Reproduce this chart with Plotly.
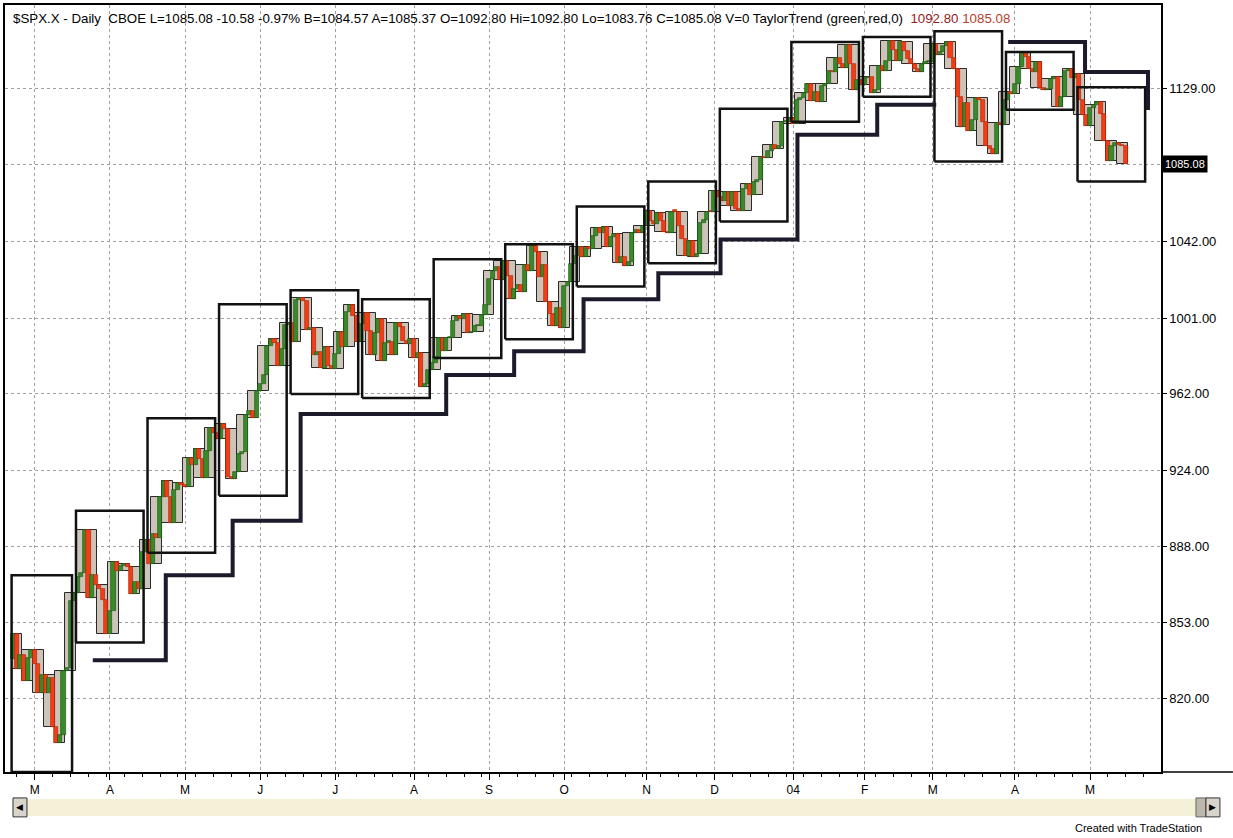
import math
import pandas as pd
import plotly.graph_objects as go

# ---------------- data ----------------
prev_close = 837.10  # close of the bar before the first visible bar

close_2003_02 = [848.17, 832.58, 838.57, 827.55, 837.28, 841.15]
close_2003_03 = [834.81, 821.99, 829.85, 822.10, 828.89, 807.48, 800.73, 804.19, 831.90, 833.27, 862.79,
                 866.45, 874.02, 875.67, 895.79, 864.23, 874.74, 869.95, 868.52, 863.50, 848.18]
close_2003_04 = [858.48, 880.90, 876.45, 878.85, 879.93, 878.29, 865.99, 871.58, 868.30, 885.23, 890.81,
                 879.91, 893.58, 892.01, 911.37, 919.02, 911.43, 898.81, 914.84, 917.84, 916.92]
close_2003_05 = [916.30, 930.08, 926.55, 934.39, 929.62, 920.27, 933.41, 945.11, 942.30, 939.28, 946.67,
                 944.30, 920.77, 919.73, 923.42, 931.87, 933.22, 951.48, 953.22, 949.64, 963.59]
close_2003_06 = [967.00, 971.56, 986.24, 990.14, 987.76, 975.93, 984.84, 997.48, 998.51, 988.61, 1010.74,
                 1011.66, 1010.09, 994.70, 995.69, 981.64, 983.45, 975.32, 985.82, 976.22, 974.50]
close_2003_07 = [982.32, 993.75, 985.70, 1004.42, 1007.84, 1002.21, 988.70, 998.14, 1003.86, 994.09, 981.73,
                 993.32, 1000.42, 978.80, 988.11, 988.61, 981.60, 998.68, 996.52, 989.28, 987.49, 990.31]
close_2003_08 = [980.15, 982.82, 965.46, 967.08, 974.12, 977.59, 980.59, 990.35, 984.03, 990.51, 990.67,
                 999.74, 1002.35, 1000.30, 1003.27, 993.06, 993.71, 996.73, 996.79, 1002.84, 1008.01]
close_2003_09 = [1021.99, 1026.27, 1027.97, 1021.39, 1031.64, 1023.17, 1010.92, 1016.42, 1018.63, 1014.81,
                 1029.32, 1025.97, 1039.58, 1036.30, 1022.82, 1029.03, 1009.38, 1003.27, 996.85, 1006.58, 995.97]
close_2003_10 = [1018.22, 1020.24, 1029.85, 1034.35, 1039.25, 1033.78, 1038.73, 1038.06, 1045.35, 1049.48,
                 1046.76, 1050.07, 1039.32, 1044.68, 1046.03, 1030.36, 1033.77, 1028.91, 1031.13, 1046.79,
                 1048.11, 1046.94, 1050.71]
close_2003_11 = [1059.02, 1053.25, 1051.81, 1058.05, 1053.21, 1047.11, 1046.57, 1058.53, 1058.41, 1050.35,
                 1043.63, 1034.15, 1042.44, 1033.65, 1035.28, 1052.08, 1053.89, 1058.45, 1058.20]
close_2003_12 = [1070.12, 1066.62, 1064.73, 1069.72, 1061.50, 1069.30, 1060.18, 1059.05, 1071.21, 1074.14,
                 1068.04, 1075.13, 1076.48, 1089.18, 1088.66, 1092.94, 1096.02, 1094.04, 1095.89, 1109.48,
                 1109.64, 1111.92]
close_2004_01 = [1108.48, 1122.22, 1123.67, 1126.33, 1131.92, 1121.86, 1127.23, 1121.22, 1130.52, 1132.05,
                 1139.83, 1138.77, 1147.62, 1143.94, 1141.55, 1155.37, 1144.05, 1128.48, 1134.11, 1131.13]
close_2004_02 = [1135.26, 1136.03, 1126.52, 1128.59, 1142.76, 1139.81, 1145.54, 1157.76, 1152.11, 1145.81,
                 1156.99, 1151.82, 1147.06, 1144.11, 1140.99, 1139.09, 1143.67, 1144.91, 1144.94]
close_2004_03 = [1155.97, 1149.10, 1151.03, 1154.87, 1156.86, 1147.20, 1140.58, 1123.89, 1106.78, 1120.57,
                 1104.49, 1110.70, 1123.75, 1122.32, 1109.78, 1095.40, 1093.95, 1091.33, 1109.19, 1108.06,
                 1122.47, 1127.00, 1126.21]
close_2004_04 = [1132.17, 1141.81, 1150.57, 1148.16, 1140.53, 1139.32, 1145.20, 1129.44, 1128.17, 1128.84,
                 1134.61, 1135.82, 1118.15, 1124.09, 1139.93, 1140.60, 1135.53, 1138.11, 1122.41, 1113.89,
                 1107.30]
close_2004_05 = [1117.49, 1119.55, 1121.53, 1113.99, 1098.70, 1087.12, 1095.45, 1097.28, 1096.44, 1095.70,
                 1085.08]

holidays = ["2003-04-18", "2003-05-26", "2003-07-04", "2003-09-01", "2003-11-27", "2003-12-25",
            "2004-01-01", "2004-01-19", "2004-02-16", "2004-04-09"]

month_labels = ["M", "A", "M", "J", "J", "A", "S", "O", "N", "D", "04", "F", "M", "A", "M"]

# TaylorTrend 20-bar boxes (high / low of each box)
box_top = [874.6, 904.7, 949.8, 1008.3, 1015.8, 1010.9, 1032.4, 1040.5, 1061.4, 1075.4,
           1117.2, 1157.1, 1160.2, 1163.7, 1151.1, 1130.0]
box_bottom = [788.8, 844.3, 885.0, 911.9, 961.9, 959.9, 980.2, 990.0, 1017.8, 1030.2,
              1053.0, 1109.7, 1124.3, 1086.7, 1116.7, 1075.4]

# trend stair-step line (bar number where each level starts, level)
trend_up_bars = [22.2, 42.6, 61.3, 80.3, 121.0, 140.0, 159.4, 180.3, 197.7, 219.2, 241.5, 258.0]
trend_up_levels = [836.4, 874.6, 900.0, 951.9, 971.5, 983.8, 1010.9, 1024.8, 1043.2, 1102.1, 1119.6, 1119.6]
trend_dn_bars = [278.1, 299.6, 317.2]
trend_dn_levels = [1157.1, 1139.1, 1116.6]

price_ticks = ["820.00", "853.00", "888.00", "924.00", "962.00", "1001.00", "1042.00", "1085.08", "1129.00"]

header = ("$SPX.X - Daily  CBOE L=1085.08 -10.58 -0.97% B=1084.57 A=1085.37 O=1092.80 "
          "Hi=1092.80 Lo=1083.76 C=1085.08 V=0 TaylorTrend (green,red,0)")
header_vals = ["1092.80", "1085.08"]

# ---------------- build ----------------
closes = (close_2003_02 + close_2003_03 + close_2003_04 + close_2003_05 + close_2003_06 + close_2003_07 +
          close_2003_08 + close_2003_09 + close_2003_10 + close_2003_11 + close_2003_12 + close_2004_01 +
          close_2004_02 + close_2004_03 + close_2004_04 + close_2004_05)
N = len(closes)
days = pd.bdate_range("2003-02-21", "2004-05-17")
days = [d for d in days if d.strftime("%Y-%m-%d") not in holidays][:N]
idx = list(range(N))
opens = [prev_close] + closes[:-1]
lows = [min(o, c) for o, c in zip(opens, closes)]
highs = [max(o, c) for o, c in zip(opens, closes)]

UP, DN = "#3a8a2a", "#f53d15"
UP_E, DN_E = "#1e5a1a", "#b02a0e"

month_pos = [i for i in range(1, N) if days[i].month != days[i - 1].month]
month_pos = month_pos[:len(month_labels)]

fig = go.Figure()

# 3-bar gray boxes (drawn as bars so the daily bars can sit on top)
g_x, g_base, g_h, g_w = [], [], [], []
for g in range(0, N, 3):
    e = min(g + 2, N - 1)
    lo = min(lows[g:e + 1]); hi = max(highs[g:e + 1])
    g_x.append((g + e) / 2.0)
    g_base.append(lo)
    g_h.append(max(hi - lo, 0.8))
    g_w.append(e - g + 1)
fig.add_trace(go.Bar(x=g_x, y=g_h, base=g_base, width=g_w,
                     marker=dict(color="#cdc4b9", line=dict(color="#2a2a2a", width=1)),
                     hoverinfo="skip", showlegend=False))

# daily bars
cols = [UP if c >= o else DN for o, c in zip(opens, closes)]
ecols = [UP_E if c >= o else DN_E for o, c in zip(opens, closes)]
fig.add_trace(go.Bar(x=idx, y=[max(h - l, 0.8) for h, l in zip(highs, lows)], base=lows, width=1.15,
                     marker=dict(color=cols, line=dict(color=ecols, width=0.7)),
                     hoverinfo="skip", showlegend=False))

# 20-bar boxes
bx, by = [], []
for k in range(len(box_top)):
    s = max(0, 20 * k - 2)
    x0, x1 = s - 0.5, 20 * k - 2 + 19 - 0.6
    bx += [x0, x1, x1, x0, x0, None]
    by += [box_bottom[k], box_bottom[k], box_top[k], box_top[k], box_bottom[k], None]
fig.add_trace(go.Scatter(x=bx, y=by, mode="lines", line=dict(color="#111111", width=2.5),
                         hoverinfo="skip", showlegend=False))

# trend stair-step lines
fig.add_trace(go.Scatter(x=trend_up_bars, y=trend_up_levels, mode="lines", line_shape="hv",
                         line=dict(color="#1b1b2b", width=4), hoverinfo="skip", showlegend=False))
fig.add_trace(go.Scatter(x=trend_dn_bars, y=trend_dn_levels, mode="lines", line_shape="hv",
                         line=dict(color="#1b1b2b", width=4), hoverinfo="skip", showlegend=False))

# ---------------- layout ----------------
L, R, T, B = 4, 72, 3, 66
W, H = 1233, 838
pw, ph = W - L - R, H - T - B
px_per_bar = 3.58
x_first = 12.4
xr = [(L - x_first) / px_per_bar, (W - R - x_first) / px_per_bar]
y_lo, y_hi = 788.8, 1179.8


def pxx(p):
    return (p - L) / pw


def pxy(p):
    return (H - B - p) / ph


tickvals = [float(t) for t in price_ticks]
ticktext = [t if t != "1085.08" else "" for t in price_ticks]

fig.update_layout(
    width=W, height=H, margin=dict(l=L, r=R, t=T, b=B),
    paper_bgcolor="white", plot_bgcolor="white",
    font=dict(family="Liberation Sans, Arial", size=12, color="black"),
    barmode="overlay", bargap=0, showlegend=False,
    xaxis=dict(range=xr, tickmode="array", tickvals=month_pos, ticktext=month_labels,
               showgrid=True, gridcolor="#a0a0a0", griddash="dot", gridwidth=1,
               ticks="outside", ticklen=6, tickcolor="black", showline=True, linecolor="black",
               linewidth=1.5, mirror=True, zeroline=False, tickfont=dict(size=12),
               minor=dict(dtick=5, tick0=1, ticks="outside", ticklen=3, tickcolor="black", showgrid=False)),
    yaxis=dict(type="log", range=[math.log10(y_lo), math.log10(y_hi)], side="right",
               tickmode="array", tickvals=tickvals, ticktext=ticktext,
               showgrid=True, gridcolor="#a0a0a0", griddash="dot", gridwidth=1,
               ticks="outside", ticklen=4, tickcolor="black", showline=True, linecolor="black",
               linewidth=1.5, mirror=True, zeroline=False, tickfont=dict(size=13)),
)

ann = []
ann.append(dict(xref="paper", yref="paper", x=pxx(10), y=pxy(17), xanchor="left", yanchor="middle",
                showarrow=False, font=dict(size=13.3, color="black"),
                text=header + "  <span style='color:#9a1a1a'>" + header_vals[0] +
                "</span> <span style='color:#b5402a'>" + header_vals[1] + "</span>"))
ann.append(dict(xref="paper", yref="y", x=1.0, xshift=1, y=math.log10(closes[-1]), xanchor="left",
                yanchor="middle", showarrow=False, text="%.2f" % closes[-1], bgcolor="black",
                font=dict(size=11, color="white"), borderpad=2))
ann.append(dict(xref="paper", yref="paper", x=pxx(1204), y=pxy(828), xanchor="right", yanchor="middle",
                showarrow=False, text="Created with TradeStation", font=dict(size=11, color="black")))
ann.append(dict(xref="paper", yref="paper", x=pxx(19), y=pxy(807), xanchor="center", yanchor="middle",
                showarrow=False, text="◀", font=dict(size=9, color="black", family="DejaVu Sans")))
ann.append(dict(xref="paper", yref="paper", x=pxx(1213), y=pxy(807), xanchor="center", yanchor="middle",
                showarrow=False, text="▶", font=dict(size=9, color="black", family="DejaVu Sans")))
fig.update_layout(annotations=ann)

shapes = [
    dict(type="rect", xref="paper", yref="paper", x0=pxx(26), x1=pxx(1198), y0=pxy(816), y1=pxy(799),
         fillcolor="#f4f1d6", line=dict(width=0), layer="below"),
    dict(type="rect", xref="paper", yref="paper", x0=pxx(12), x1=pxx(26), y0=pxy(817), y1=pxy(798),
         fillcolor="#d8d4cc", line=dict(color="#333", width=1)),
    dict(type="rect", xref="paper", yref="paper", x0=pxx(1196), x1=pxx(1206), y0=pxy(817), y1=pxy(798),
         fillcolor="#bdb6aa", line=dict(color="#666", width=1)),
    dict(type="rect", xref="paper", yref="paper", x0=pxx(1206), x1=pxx(1220), y0=pxy(817), y1=pxy(798),
         fillcolor="#d8d4cc", line=dict(color="#333", width=1)),
    dict(type="line", xref="paper", yref="paper", x0=1.0, x1=pxx(1233), y0=0, y1=0,
         line=dict(color="black", width=1.5)),
]
fig.update_layout(shapes=shapes)

fig.write_html("out.html", config={"displayModeBar": False},
               post_script="document.body.style.margin='0px';document.body.style.overflow='hidden';")
